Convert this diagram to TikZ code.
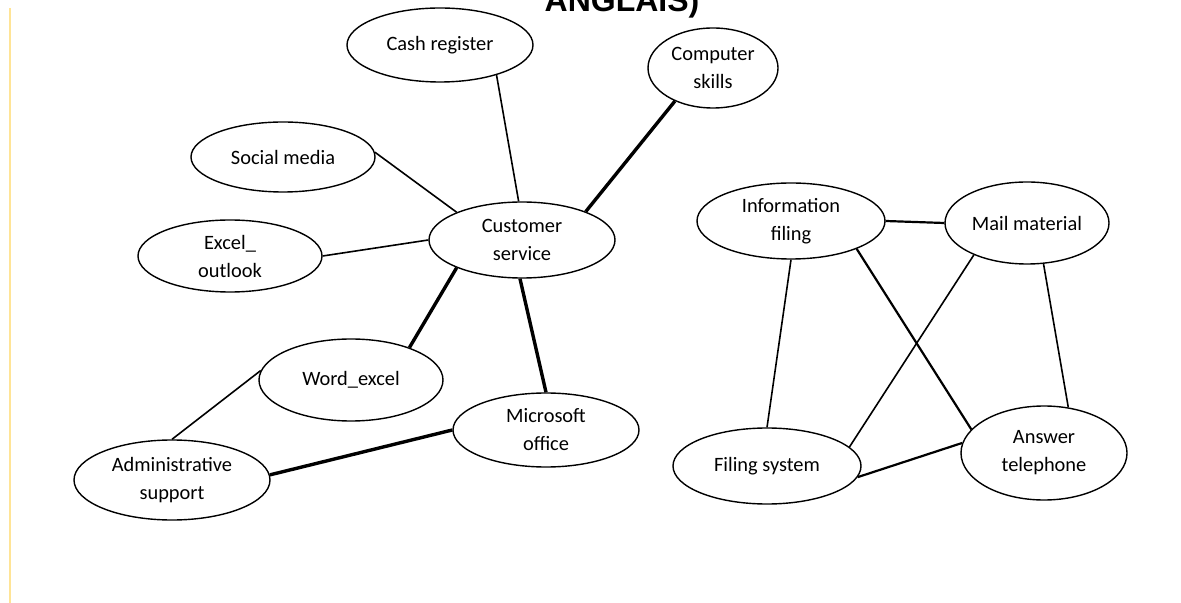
\documentclass[tikz,border=0pt]{standalone}
\usepackage{fontspec}
\setmainfont{Carlito}
\newfontfamily\headfont{Liberation Sans}
\usetikzlibrary{positioning,shapes}

\begin{document}
\begin{tikzpicture}[
  x=0.5pt, y=-0.5pt,
  mynode/.style={draw,ellipse,inner sep=0pt,align=center,line width=0.7pt,
    font=\fontsize{10.2}{14}\selectfont},
  thinlink/.style={line width=0.8pt},
  midlink/.style={line width=1.1pt},
  thicklink/.style={line width=1.7pt}]
\useasboundingbox (0,0) rectangle (1181,603);
\draw[color={rgb,255:red,255; green,228; blue,150}, line width=1.4pt] (10,8) -- (10,603);
\node[font=\headfont\bfseries\fontsize{16}{16}\selectfont, anchor=base] (title) at (622,12) {ANGLAIS)};

% left cluster
\node[mynode, minimum width=93pt, minimum height=37pt] (cash) at (440,45) {Cash register};
\node[mynode, minimum width=65pt, minimum height=40pt] (comp) at (713,68) {Computer\\skills};
\node[mynode, minimum width=92pt, minimum height=35pt] (social) at (283,157) {Social media};
\node[mynode, minimum width=93pt, minimum height=38pt] (cust) at (522,240) {Customer\\service};
\node[mynode, minimum width=92pt, minimum height=36pt] (excel) at (230,256) {Excel\_\\outlook};
\node[mynode, minimum width=92pt, minimum height=41pt] (word) at (351,380) {Word\_excel};
\node[mynode, minimum width=93pt, minimum height=37pt] (msoft) at (546,430) {Microsoft\\office};
\node[mynode, minimum width=98pt, minimum height=40pt] (admin) at (172,480) {Administrative\\support};

% right cluster
\node[mynode, minimum width=94pt, minimum height=38pt] (info) at (791,221) {Information\\filing};
\node[mynode, minimum width=82pt, minimum height=41pt] (mail) at (1027,223) {Mail material};
\node[mynode, minimum width=94pt, minimum height=38pt] (filing) at (767,466) {Filing system};
\node[mynode, minimum width=83pt, minimum height=47pt] (answer) at (1044,453) {Answer\\telephone};

\draw[thinlink] (cash.-28) -- (cust.95);
\draw[thicklink] (comp.221) -- (cust.24);
\draw[thinlink] (social.3) -- (cust.157);
\draw[thinlink] (excel.0) -- (cust.180);
\draw[thicklink] (word.29) -- (cust.203);
\draw[thicklink] (msoft.90) -- (cust.267);
\draw[thinlink] (word.174) -- (admin.90);
\draw[thicklink] (admin.3) -- (msoft.180);

\draw[midlink] (info.0) -- (mail.180);
\draw[thinlink] (info.-90) -- (filing.90);
\draw[midlink] (info.-23) -- (answer.162);
\draw[thinlink] (mail.211) -- (filing.13);
\draw[thinlink] (mail.-68) -- (answer.62);
\draw[midlink] (filing.-7) -- (answer.173);
\end{tikzpicture}
\end{document}
